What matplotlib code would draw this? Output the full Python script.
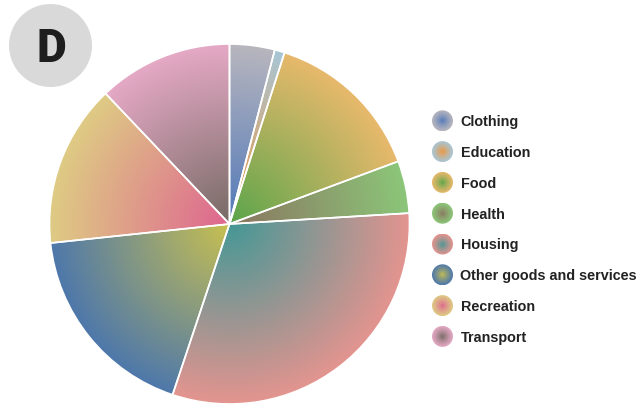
import numpy as np
import matplotlib
matplotlib.use("Agg")
import matplotlib.pyplot as plt
from matplotlib.patches import Circle
from matplotlib.colors import to_rgb

categories = ["Clothing", "Education", "Food", "Health", "Housing",
              "Other goods and services", "Recreation", "Transport"]
values = [4.05, 0.9, 14.4, 4.7, 31.1, 18.2, 14.6, 12.1]
inner_colors = ["#5078b9", "#f0963c", "#5aa54a", "#8a7560", "#459896",
                "#c8c050", "#de6590", "#756a64"]
outer_colors = ["#b8b6be", "#a8c6d6", "#e8b96c", "#8cc679", "#e4948f",
                "#4e78ab", "#dfcb84", "#e5a9c5"]
badge_label = "D"

W, H = 641, 406
fig = plt.figure(figsize=(W / 100, H / 100), dpi=100)
fig.patch.set_facecolor("white")

# ---- pie ----
cx, cy, R = 229.5, 225, 180
ax = fig.add_axes([(cx - R) / W, (H - cy - R) / H, 2 * R / W, 2 * R / H])
wedges, _ = ax.pie(values, startangle=90, counterclock=False, radius=1,
                   wedgeprops=dict(edgecolor="white", linewidth=1.2))
ax.set_xlim(-1, 1)
ax.set_ylim(-1, 1)
ax.set_aspect("equal")
ax.axis("off")

n = 500
xs = np.linspace(-1, 1, n)
X, Y = np.meshgrid(xs, xs)
T = np.clip(np.sqrt(X ** 2 + Y ** 2), 0, 1)[..., None]
for w, ci, co in zip(wedges, inner_colors, outer_colors):
    a = np.array(to_rgb(ci))
    b = np.array(to_rgb(co))
    img = a * (1 - T) + b * T
    im = ax.imshow(img, extent=(-1, 1, -1, 1), origin="lower", zorder=1,
                   interpolation="bilinear")
    im.set_clip_path(w)
    w.set_facecolor("none")
    w.set_zorder(2)
ax.set_xlim(-1, 1)
ax.set_ylim(-1, 1)

# ---- overlay axes in pixel coords for badge and legend ----
ov = fig.add_axes([0, 0, 1, 1])
ov.set_xlim(0, W)
ov.set_ylim(H, 0)
ov.axis("off")
ov.patch.set_alpha(0)

ov.add_patch(Circle((50.5, 46.5), 41.5, facecolor="#d9d9d9", edgecolor="none"))
ov.text(51, 48.5, badge_label, fontsize=33, fontweight="black",
        family=["Roboto", "DejaVu Sans"],
        color="#1e1e1e", ha="center", va="center")

m = 200
g = np.linspace(-1, 1, m)
GX, GY = np.meshgrid(g, g)
GT = np.clip(np.sqrt(GX ** 2 + GY ** 2), 0, 1)[..., None] ** 0.8
y0, dy = 121.8, 30.8
mx, mr = 442.5, 10.5
for i, (lab, ci, co) in enumerate(zip(categories, inner_colors, outer_colors)):
    yy = y0 + i * dy
    a = np.array(to_rgb(ci))
    b = np.array(to_rgb(co))
    img = a * (1 - GT) + b * GT
    circ = Circle((mx, yy), mr, facecolor="none", edgecolor="none")
    ov.add_patch(circ)
    im = ov.imshow(img, extent=(mx - mr, mx + mr, yy + mr, yy - mr),
                   interpolation="bilinear", zorder=1)
    im.set_clip_path(circ)
    ov.text(460.5, yy + 0.5, lab, fontsize=10.4, fontweight="bold",
            family=["Liberation Sans", "DejaVu Sans"], color="#222222",
            ha="left", va="center")
ov.set_xlim(0, W)
ov.set_ylim(H, 0)
ov.set_aspect("auto")

fig.savefig("out.png", dpi=100, facecolor="white")
